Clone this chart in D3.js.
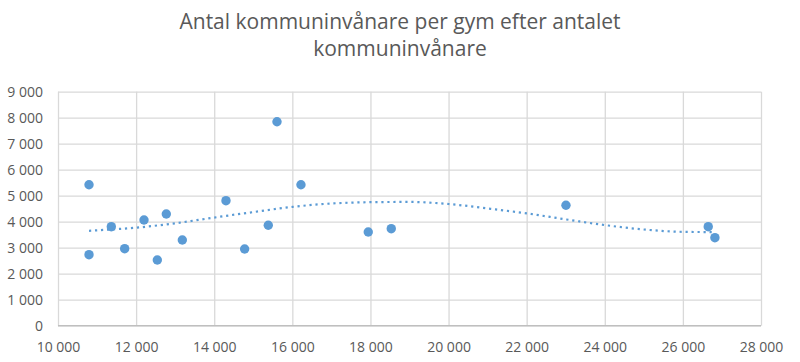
<!DOCTYPE html>
<html><head><meta charset="utf-8">
<script src="https://cdn.jsdelivr.net/npm/d3@7"></script>
<style>body{margin:0;background:#fff}svg{display:block}</style>
</head><body>
<svg id="c" width="800" height="362"></svg>
<script>
const title = ["Antal kommuninvånare per gym efter antalet", "kommuninvånare"];
const invanare = [10794,10794,11365,11707,12202,12543,12773,13183,14301,14779,15384,15607,16221,17944,18533,23006,26649,26820];
const perGym   = [5423,2731,3808,2962,4065,2527,4296,3296,4808,2950,3862,7846,5423,3604,3731,4631,3808,3385];
const trendX = [10794,11000,12000,13000,14000,15000,16000,17000,18000,19000,20000,21000,22000,23000,24000,25000,26000,26820];
const trendY = [3650,3670,3770,3940,4160,4370,4570,4700,4750,4760,4680,4510,4320,4090,3870,3700,3610,3600];
const xTicks = [10000,12000,14000,16000,18000,20000,22000,24000,26000,28000];
const yTicks = [0,1000,2000,3000,4000,5000,6000,7000,8000,9000];

const svg = d3.select("#c");
const m = {l:58, r:761, t:91.7, b:325.7};
const x = d3.scaleLinear().domain([10000,28000]).range([m.l,m.r]);
const y = d3.scaleLinear().domain([0,9000]).range([m.b,m.t]);
const fmt = d3.formatLocale({decimal:",", thousands:"\u00a0", grouping:[3], currency:["","kr"]}).format(",");
const font = "'Open Sans', sans-serif";
const txt = "#595959", grid = "#d9d9d9", blue = "#5b9bd5";

svg.append("g").selectAll("text").data(title).join("text")
  .attr("x", 400).attr("y", (d,i)=>29+i*27).attr("text-anchor","middle")
  .attr("font-family", font).attr("font-size", 21).attr("fill", txt).text(d=>d);

// grid
const gy = svg.append("g").attr("transform",`translate(${m.l},0)`)
  .call(d3.axisLeft(y).tickValues(yTicks).tickSize(-(m.r-m.l)).tickFormat(fmt));
gy.select(".domain").remove();
gy.selectAll("line").attr("stroke",grid).attr("stroke-width",1.3);
gy.selectAll("text").attr("x",-15).attr("dy","0.35em").attr("fill",txt).attr("font-size",14).attr("font-family",font);

const gx = svg.append("g").attr("transform",`translate(0,${m.b})`)
  .call(d3.axisBottom(x).tickValues(xTicks).tickSize(-(m.b-m.t)).tickFormat(fmt));
gx.select(".domain").remove();
gx.selectAll("line").attr("stroke",grid).attr("stroke-width",1.3);
gx.selectAll("text").attr("y",16).attr("fill",txt).attr("font-size",14).attr("font-family",font);

svg.append("line").attr("x1",m.l).attr("x2",m.r).attr("y1",m.b).attr("y2",m.b)
  .attr("stroke","#bfbfbf").attr("stroke-width",1.3);

// points
svg.append("g").selectAll("circle").data(invanare).join("circle")
  .attr("cx",d=>x(d)).attr("cy",(d,i)=>y(perGym[i])).attr("r",4.7).attr("fill",blue);

// trend
const pts = trendX.map((d,i)=>[d,trendY[i]]);
svg.append("path").attr("d", d3.line().x(d=>x(d[0])).y(d=>y(d[1])).curve(d3.curveMonotoneX)(pts))
  .attr("fill","none").attr("stroke",blue).attr("stroke-width",2.2)
  .attr("stroke-dasharray","2.2 3.8");
</script>
</body></html>
